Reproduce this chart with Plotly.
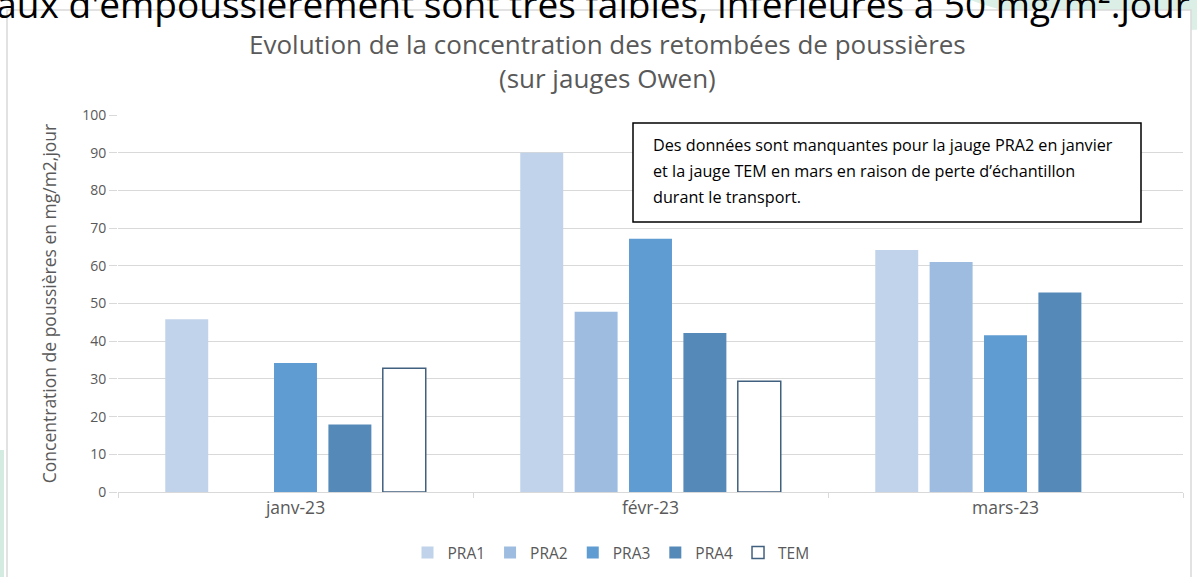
import plotly.graph_objects as go

categories = ["janv-23", "févr-23", "mars-23"]
series_names = ["PRA1", "PRA2", "PRA3", "PRA4", "TEM"]
pra1 = [45.8, 90.0, 64.2]
pra2 = [None, 47.8, 61.0]
pra3 = [34.2, 67.2, 41.6]
pra4 = [17.9, 42.2, 52.9]
tem = [32.8, 29.4, None]
y_ticks = [0, 10, 20, 30, 40, 50, 60, 70, 80, 90, 100]
title_text = "Evolution de la concentration des retombées de poussières<br>(sur jauges Owen)"
note_lines = [
    "Des données sont manquantes pour la jauge PRA2 en janvier",
    "et la jauge TEM en mars en raison de perte d’échantillon",
    "durant le transport.",
]

values = [pra1, pra2, pra3, pra4, tem]
fills = ["#C0D3EA", "#9DBCDF", "#5F9CD1", "#5589B8", "#FFFFFF"]
lines = ["#C0D3EA", "#9DBCDF", "#5F9CD1", "#5589B8", "#41607F"]
lw = [0, 0, 0, 0, 1.5]

FONT = "Open Sans"
GRAY = "#595959"

# plot-area geometry (px) used to convert to paper coords
L, R, T, B = 118, 14, 115, 85
W, H = 1197, 577
PW, PH = W - L - R, H - T - B


def px(xp):
    return (xp - L) / PW


def py(yp):
    return (H - B - yp) / PH


fig = go.Figure()
for name, vals, fc, lc, w in zip(series_names, values, fills, lines, lw):
    fig.add_trace(go.Bar(
        name=name, x=categories, y=vals,
        marker=dict(color=fc, line=dict(color=lc, width=w)),
        hoverinfo="x+y+name",
    ))

fig.update_layout(
    width=W, height=H,
    margin=dict(l=L, r=R, t=T, b=B, autoexpand=False),
    paper_bgcolor="white", plot_bgcolor="white",
    barmode="group", bargap=0.234, bargroupgap=0.21,
    font=dict(family=FONT, color=GRAY),
    legend=dict(
        orientation="h", x=px(611), xanchor="center", y=py(553), yanchor="middle",
        font=dict(family=FONT, size=15.5, color=GRAY),
        itemwidth=30, traceorder="normal",
    ),
    showlegend=True,
)

fig.update_xaxes(
    type="category", showgrid=False, showline=True, linecolor="#D9D9D9", linewidth=1,
    ticks="outside", tickson="boundaries", ticklen=5, tickcolor="#D9D9D9",
    tickfont=dict(family=FONT, size=17.5, color=GRAY),
)
fig.update_yaxes(
    range=[0, 100], tickvals=y_ticks, showgrid=True, gridcolor="#D9D9D9", gridwidth=1,
    zeroline=False, showline=False, ticks="outside", ticklen=8, tickcolor="#D9D9D9",
    tickfont=dict(family=FONT, size=14, color=GRAY),
    title=dict(text="Concentration de poussières en mg/m2,jour",
               font=dict(family=FONT, size=17.5, color=GRAY), standoff=21),
)

# decorative green shapes of the surrounding page
fig.add_shape(type="circle", xref="paper", yref="paper",
              x0=px(900), x1=px(1450), y0=py(30), y1=py(-150),
              line=dict(width=0), fillcolor="#DCEFE6", layer="below")
fig.add_shape(type="rect", xref="paper", yref="paper",
              x0=px(0), x1=px(4), y0=py(577), y1=py(450),
              line=dict(width=0), fillcolor="#D4EBE2", layer="below")
# chart frame
fig.add_shape(type="rect", xref="paper", yref="paper",
              x0=px(7), x1=px(1191), y0=py(600), y1=py(10),
              line=dict(color="#D9D9D9", width=1.5), fillcolor="white", layer="below")

# chart title
fig.add_annotation(
    xref="paper", yref="paper", x=px(607), y=py(61),
    xanchor="center", yanchor="middle", text=title_text, showarrow=False,
    font=dict(family=FONT, size=26, color=GRAY),
)

# note box
fig.add_shape(type="rect", xref="paper", yref="paper",
              x0=px(633), x1=px(1141), y0=py(222), y1=py(123),
              line=dict(color="black", width=1.5), fillcolor="white", layer="above")
for i, line_text in enumerate(note_lines):
    fig.add_annotation(
        xref="paper", yref="paper", x=px(651), y=py(145 + 26 * i),
        xanchor="left", yanchor="middle", text=line_text, showarrow=False,
        font=dict(family=FONT, size=16.2, color="black"),
    )

# cropped line of the surrounding document text
fig.add_annotation(
    xref="paper", yref="paper", x=px(1192), y=py(4), xanchor="right", yanchor="middle",
    text="niveaux d'empoussièrement sont très faibles, inférieures à 50 mg/m².jour",
    showarrow=False, font=dict(family=FONT, size=37, color="black"),
)

fig.write_html("out.html", config={"displayModeBar": False})

# remove the default 8px body margin so the figure sits at the page origin
with open("out.html", encoding="utf-8") as f:
    html = f.read()
html = html.replace("<head>", "<head><style>body{margin:0;padding:0;}</style>", 1)
with open("out.html", "w", encoding="utf-8") as f:
    f.write(html)
